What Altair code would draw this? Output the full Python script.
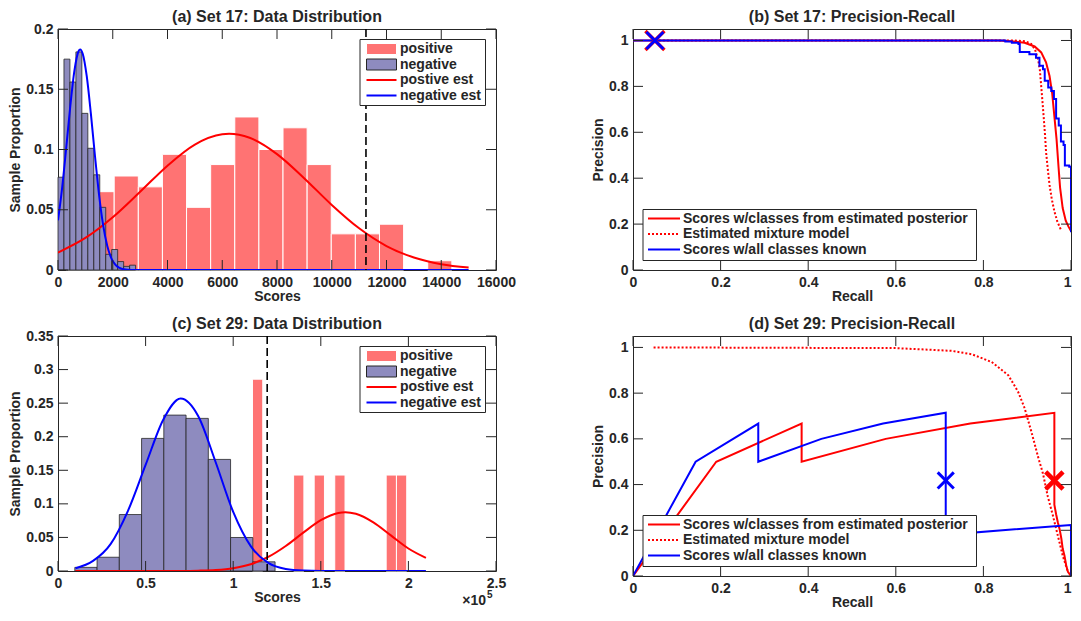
import altair as alt
import pandas as pd

FONT = "Liberation Sans"
TXT = "#262626"
PINK = "#FF7373"
PURPLE = "#8E8BBF"
RED = "#FF0000"
BLUE = "#0000FF"
XPATH = "M-1,-1L1,1M-1,1L1,-1"

# ---------------- (a) Set 17 distribution ----------------
a_neg_start = 0
a_neg_width = 218
a_neg_heights = [0.077, 0.175, 0.156, 0.181, 0.130, 0.101, 0.079, 0.052, 0.013, 0.017, 0.007, 0.003, 0.004]
a_pos_start = 291
a_pos_width = 881
a_pos_heights = [0.013, 0.065, 0.078, 0.069, 0.096, 0.052, 0.0875, 0.127, 0.100, 0.118, 0.0875,
                 0.030, 0.030, 0.038, 0.0, 0.0077]
a_pos_est_x = [0, 1000, 2000, 3000, 4000, 5000, 6000, 6250, 7000, 8000, 9000, 10000, 11000, 12000, 13000, 14000, 15000]
a_pos_est_y = [0.0145, 0.0266, 0.0438, 0.0649, 0.0866, 0.1041, 0.1126, 0.113, 0.1097, 0.0962, 0.076, 0.054,
               0.0346, 0.0199, 0.0104, 0.0048, 0.002]
a_neg_est_x = [0, 150, 300, 450, 600, 750, 811, 900, 1050, 1200, 1350, 1500, 1650, 1800, 1950, 2100, 2250,
               2400, 2700, 3500, 15000]
a_neg_est_y = [0.0412, 0.068, 0.1013, 0.1362, 0.1654, 0.1815, 0.183, 0.1797, 0.1608, 0.1299, 0.0948, 0.0624,
               0.0371, 0.020, 0.0097, 0.0042, 0.0017, 0.0006, 0.0001, 0.0, 0.0]
a_threshold = 11250
a_xticks = [0, 2000, 4000, 6000, 8000, 10000, 12000, 14000, 16000]
a_yticks = [0, 0.05, 0.1, 0.15, 0.2]

# ---------------- (b) Set 17 precision-recall ----------------
b_post_x = [0, 0.834, 0.864, 0.894, 0.917, 0.932, 0.943, 0.951, 0.957, 0.962, 0.967, 0.9715, 0.975, 0.981, 0.988, 0.994, 1.0]
b_post_y = [1, 1, 0.997, 0.99, 0.974, 0.948, 0.905, 0.845, 0.77, 0.67, 0.57, 0.45, 0.36, 0.27, 0.215, 0.19, 0.17]
b_mix_x = [0.05, 0.87, 0.895, 0.909, 0.918, 0.925, 0.929, 0.932, 0.935, 0.938, 0.941, 0.943, 0.947, 0.951,
           0.956, 0.962, 0.969, 0.977]
b_mix_y = [1, 1, 0.997, 0.985, 0.96, 0.917, 0.87, 0.80, 0.73, 0.658, 0.58, 0.515, 0.44, 0.371, 0.31, 0.256, 0.21, 0.175]
b_known_x = [0, 0.83, 0.85, 0.865, 0.88, 0.883, 0.905, 0.92, 0.928, 0.936, 0.94, 0.948, 0.955, 0.961, 0.966,
             0.972, 0.977, 0.983, 0.986, 0.996, 1.0, 1.0]
b_known_y = [1, 1, 0.995, 0.99, 0.985, 0.95, 0.94, 0.925, 0.89, 0.875, 0.825, 0.795, 0.78, 0.745, 0.66, 0.63,
             0.56, 0.545, 0.455, 0.45, 0.445, 0.165]
b_marker = (0.05, 1.0)

# ---------------- (c) Set 29 distribution ----------------
c_neg_start = 9600
c_neg_width = 12700
c_neg_heights = [0.0054, 0.0205, 0.0841, 0.1975, 0.2322, 0.2273, 0.1662, 0.0499, 0.0137]
c_pos_starts = [111000, 134480, 146220, 157960, 187310, 193180]
c_pos_width = 5870
c_pos_heights = [0.2857, 0.1429, 0.1429, 0.1429, 0.1429, 0.1429]
c_neg_est_x = [10000, 20000, 30000, 40000, 50000, 60000, 70000, 80000, 90000, 100000, 110000, 120000,
               130000, 140000, 150000, 210000]
c_neg_est_y = [0.004, 0.015, 0.040, 0.090, 0.158, 0.225, 0.257, 0.231, 0.162, 0.088, 0.037, 0.012, 0.003,
               0.0006, 0.0001, 0.0]
c_pos_est_x = [10000, 50000, 60000, 70000, 80000, 90000, 100000, 110000, 120000, 130000, 140000, 150000,
               160000, 164000, 170000, 180000, 190000, 200000, 210000]
c_pos_est_y = [0.0, 0.0, 0.00003, 0.0001, 0.0005, 0.0015, 0.0042, 0.0101, 0.0209, 0.0372, 0.0571, 0.0757,
               0.0865, 0.0875, 0.0852, 0.0724, 0.053, 0.0335, 0.0195]
c_threshold = 119400
c_xticks = [0, 50000, 100000, 150000, 200000, 250000]
c_yticks = [0, 0.05, 0.1, 0.15, 0.2, 0.25, 0.3, 0.35]

# ---------------- (d) Set 29 precision-recall ----------------
d_post_x = [0, 0.19, 0.385, 0.385, 0.577, 0.77, 0.962, 0.962, 0.966, 0.97, 0.974, 0.978, 0.981, 0.985, 0.989, 0.993, 1.0]
d_post_y = [0, 0.5, 0.667, 0.5, 0.6, 0.667, 0.714, 0.312, 0.27, 0.234, 0.205, 0.163, 0.12, 0.09, 0.047, 0.018, 0.0]
d_mix_x = [0.047, 0.6, 0.675, 0.728, 0.774, 0.819, 0.857, 0.879, 0.894, 0.909, 0.925, 0.936, 0.947, 0.959,
           0.97, 0.981, 0.993]
d_mix_y = [1, 0.997, 0.99, 0.985, 0.97, 0.936, 0.878, 0.807, 0.735, 0.635, 0.52, 0.448, 0.348, 0.262, 0.176, 0.09, 0.018]
d_known_x = [0, 0.143, 0.286, 0.286, 0.43, 0.571, 0.714, 0.714, 1.0, 1.0]
d_known_y = [0, 0.5, 0.667, 0.5, 0.6, 0.667, 0.714, 0.18, 0.2235, 0.0]
d_marker_known = (0.714, 0.418)
d_marker_post = (0.962, 0.418)

pr_ticks = [0, 0.2, 0.4, 0.6, 0.8, 1]

panel_titles = ["(a) Set 17: Data Distribution", "(b) Set 17: Precision-Recall",
                "(c) Set 29: Data Distribution", "(d) Set 29: Precision-Recall"]
hist_legend_labels = ["positive", "negative", "postive est", "negative est"]
pr_legend_labels = ["Scores w/classes from estimated posterior", "Estimated mixture model",
                    "Scores w/all classes known"]

ONE = pd.DataFrame({"k": [0]})


def box(x1, x2, y1, y2, fill="white", stroke=TXT, sw=1):
    return alt.Chart(ONE).mark_rect(fill=fill, stroke=stroke, strokeWidth=sw).encode(
        x=alt.value(x1), x2=alt.value(x2), y=alt.value(y1), y2=alt.value(y2))


def seg(x1, x2, y, color, dash=None, sw=2):
    kw = dict(color=color, strokeWidth=sw)
    if dash:
        kw["strokeDash"] = dash
    return alt.Chart(ONE).mark_rule(**kw).encode(x=alt.value(x1), x2=alt.value(x2), y=alt.value(y))


def label(x, y, s, size=14, align="left", baseline="middle"):
    return alt.Chart(ONE).mark_text(text=s, align=align, baseline=baseline, font=FONT, fontSize=size,
                                    fontWeight="bold", color=TXT).encode(x=alt.value(x), y=alt.value(y))


class Panel:
    def __init__(self, w, h, xdom, ydom, xticks, yticks, xtitle, ytitle, xfmt="~g", xlabelexpr=None,
                 flush_last=False):
        self.w, self.h = w, h
        self.xticks, self.yticks = xticks, yticks
        common = dict(labelFont=FONT, labelFontSize=14, labelFontWeight="bold", labelColor=TXT,
                      titleFont=FONT, titleFontSize=14, titleFontWeight="bold", titleColor=TXT,
                      ticks=False, tickSize=0, domain=False, grid=False, labelOverlap=False)
        xkw = dict(values=xticks, title=xtitle, labelPadding=5, titlePadding=0, labelFlush=False,
                   labelAngle=0, format=xfmt, **common)
        if xlabelexpr:
            xkw["labelExpr"] = xlabelexpr
        if flush_last:
            xkw["labelAlign"] = {"condition": {"test": "datum.value == 1", "value": "right"}, "value": "center"}
        self.xa = alt.Axis(**xkw)
        self.ya = alt.Axis(values=yticks, title=ytitle, labelPadding=5, titlePadding=3, format="~g", **common)
        self.xs = alt.Scale(domain=xdom, nice=False, zero=False)
        self.ys = alt.Scale(domain=ydom, nice=False, zero=False)

    def X(self, f):
        return alt.X(f"{f}:Q", scale=self.xs, axis=self.xa)

    def Y(self, f):
        return alt.Y(f"{f}:Q", scale=self.ys, axis=self.ya)

    def hist(self, starts, width, heights, fill, stroke, sw):
        rows = [{"x0": s, "x1": s + width, "h": hh, "b": 0.0} for s, hh in zip(starts, heights) if hh > 0]
        return alt.Chart(pd.DataFrame(rows)).mark_rect(fill=fill, stroke=stroke, strokeWidth=sw).encode(
            x=self.X("x0"), x2=alt.X2("x1"), y=self.Y("h"), y2=alt.Y2("b"))

    def line(self, xs, ys, color, dash=None, interp="monotone", sw=2):
        df = pd.DataFrame({"x": xs, "y": ys, "i": list(range(len(xs)))})
        kw = dict(color=color, strokeWidth=sw, interpolate=interp, clip=True)
        if dash:
            kw["strokeDash"] = dash
        return alt.Chart(df).mark_line(**kw).encode(x=self.X("x"), y=self.Y("y"), order=alt.Order("i:Q"))

    def vline(self, xv):
        return alt.Chart(pd.DataFrame({"x": [xv]})).mark_rule(color="black", strokeWidth=1.6, strokeDash=[8, 4]).encode(
            x=self.X("x"), y=alt.value(0), y2=alt.value(self.h))

    def xmark(self, pt, color, size, sw):
        return alt.Chart(pd.DataFrame({"x": [pt[0]], "y": [pt[1]]})).mark_point(
            shape=XPATH, filled=False, color=color, strokeWidth=sw, size=size, opacity=1).encode(
            x=self.X("x"), y=self.Y("y"))

    def ticks(self, L=10):
        dx = pd.DataFrame({"v": self.xticks})
        dy = pd.DataFrame({"v": self.yticks})
        kw = dict(color=TXT, strokeWidth=1)
        return [
            alt.Chart(dx).mark_rule(**kw).encode(x=self.X("v"), y=alt.value(self.h), y2=alt.value(self.h - L)),
            alt.Chart(dx).mark_rule(**kw).encode(x=self.X("v"), y=alt.value(0), y2=alt.value(L)),
            alt.Chart(dy).mark_rule(**kw).encode(y=self.Y("v"), x=alt.value(0), x2=alt.value(L)),
            alt.Chart(dy).mark_rule(**kw).encode(y=self.Y("v"), x=alt.value(self.w), x2=alt.value(self.w - L)),
        ]

    def title(self, t):
        return label(self.w / 2, -20, t, size=16, align="center", baseline="top")

    def hist_legend(self):
        w = self.w
        rows = [20, 35.5, 51, 66.5]
        return [
            box(w - 136, w - 10.5, 10.5, 76.5),
            box(w - 129.5, w - 99.5, 14.5, 25.5, fill=PINK, stroke="white"),
            box(w - 129.5, w - 99.5, 30, 41, fill=PURPLE, stroke=TXT),
            seg(w - 129.5, w - 99.5, rows[2], RED),
            seg(w - 129.5, w - 99.5, rows[3], BLUE),
        ] + [label(w - 96, y, s) for y, s in zip(rows, hist_legend_labels)]

    def pr_legend(self):
        h = self.h
        rows = [h - 51.5, h - 36, h - 20.5]
        return [
            box(10, 343.5, h - 60.5, h - 9.5),
            seg(15, 47, rows[0], RED),
            seg(15, 47, rows[1], RED, dash=[2, 2]),
            seg(15, 47, rows[2], BLUE),
        ] + [label(50, y, s) for y, s in zip(rows, pr_legend_labels)]


W = 438
H_TOP = 241
H_C = 235
H_D = 240

# panel a
pa = Panel(W, H_TOP, [0, 16000], [0, 0.2], a_xticks, a_yticks, "Scores", "Sample Proportion", xfmt="d")
a_chart = alt.layer(
    pa.hist([a_pos_start + i * a_pos_width for i in range(len(a_pos_heights))], a_pos_width, a_pos_heights, PINK, "white", 1),
    pa.hist([a_neg_start + i * a_neg_width for i in range(len(a_neg_heights))], a_neg_width, a_neg_heights, PURPLE, TXT, 0.8),
    pa.line(a_pos_est_x, a_pos_est_y, RED),
    pa.line(a_neg_est_x, a_neg_est_y, BLUE),
    pa.vline(a_threshold),
    *pa.ticks(),
    *pa.hist_legend(),
    pa.title(panel_titles[0]),
).properties(width=W, height=H_TOP)

# panel b
pb = Panel(W, H_TOP, [0, 1], [0, 1.05], pr_ticks, pr_ticks, "Recall", "Precision", flush_last=True)
b_chart = alt.layer(
    pb.line(b_post_x, b_post_y, RED, interp="linear"),
    pb.line(b_mix_x, b_mix_y, RED, dash=[2, 2], interp="linear"),
    pb.line(b_known_x, b_known_y, BLUE, interp="step-after"),
    pb.xmark(b_marker, RED, 360, 3.5),
    pb.xmark(b_marker, BLUE, 290, 3),
    *pb.ticks(),
    *pb.pr_legend(),
    pb.title(panel_titles[1]),
).properties(width=W, height=H_TOP)

# panel c
pc = Panel(W, H_C, [0, 250000], [0, 0.35], c_xticks, c_yticks, "Scores", "Sample Proportion",
           xlabelexpr="format(datum.value / 100000, '~g')")
c_chart = alt.layer(
    pc.hist(c_pos_starts, c_pos_width, c_pos_heights, PINK, "white", 1),
    pc.hist([c_neg_start + i * c_neg_width for i in range(len(c_neg_heights))], c_neg_width, c_neg_heights, PURPLE, TXT, 0.8),
    pc.line(c_pos_est_x, c_pos_est_y, RED),
    pc.line(c_neg_est_x, c_neg_est_y, BLUE),
    pc.vline(c_threshold),
    *pc.ticks(),
    *pc.hist_legend(),
    label(W - 10, H_C + 34, "\u00d710", size=14, align="right", baseline="alphabetic"),
    label(W - 9, H_C + 27, "5", size=10, align="left", baseline="alphabetic"),
    pc.title(panel_titles[2]),
).properties(width=W, height=H_C)

# panel d
pdd = Panel(W, H_D, [0, 1], [0, 1.05], pr_ticks, pr_ticks, "Recall", "Precision", flush_last=True)
d_chart = alt.layer(
    pdd.line(d_post_x, d_post_y, RED, interp="linear"),
    pdd.line(d_mix_x, d_mix_y, RED, dash=[2, 2], interp="linear"),
    pdd.line(d_known_x, d_known_y, BLUE, interp="linear"),
    pdd.xmark(d_marker_known, BLUE, 260, 3),
    pdd.xmark(d_marker_post, RED, 300, 4.5),
    *pdd.ticks(),
    *pdd.pr_legend(),
    pdd.title(panel_titles[3]),
).properties(width=W, height=H_D)

chart = alt.concat(
    a_chart, b_chart, c_chart, d_chart, columns=2,
    spacing={"row": 66, "column": 137}, bounds="flush",
    padding={"left": 0, "top": 0, "right": 0, "bottom": 0},
).configure_view(stroke=TXT, strokeWidth=1)

chart.save("out.html", embed_options={"renderer": "svg", "actions": False})
